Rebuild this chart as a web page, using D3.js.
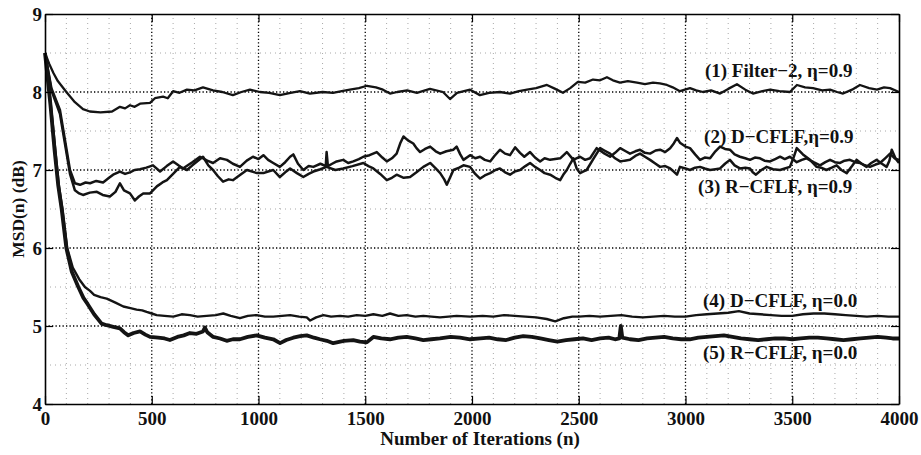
<!DOCTYPE html>
<html>
<head>
<meta charset="utf-8">
<script src="https://cdn.jsdelivr.net/npm/d3@7"></script>
<style>
  html, body { margin: 0; padding: 0; background: #fff; }
  svg { display: block; }
  text { font-family: "Liberation Serif", "DejaVu Serif", serif; font-weight: bold; fill: #111; }
</style>
</head>
<body>
<svg id="chart" width="921" height="455"></svg>
<script>
// axis ticks
const xTicks = [0, 500, 1000, 1500, 2000, 2500, 3000, 3500, 4000];
const yTicks = [4, 5, 6, 7, 8, 9];

// series: [iteration, MSD dB]
const filter2_09 = [
  [0, 8.5], [20, 8.36], [40, 8.24], [60, 8.14], [100, 8.0], [140, 7.87], [178, 7.78], [210, 7.75],
  [260, 7.74], [314, 7.75], [351, 7.81], [375, 7.79], [398, 7.83], [420, 7.81], [445, 7.85], [492, 7.86],
  [515, 7.92], [553, 7.94], [575, 7.92], [600, 8.01], [630, 7.99], [665, 8.03], [700, 8.02], [740, 8.06],
  [787, 8.02], [830, 8.0], [880, 7.96], [920, 8.0], [960, 8.03], [1007, 8.0], [1050, 7.99], [1100, 7.96],
  [1150, 7.99], [1194, 8.01], [1241, 7.98], [1300, 8.0], [1349, 7.99], [1390, 8.01], [1428, 8.03],
  [1470, 8.05], [1508, 8.08], [1550, 8.06], [1583, 8.03], [1616, 7.98], [1650, 8.0], [1696, 8.02],
  [1742, 7.99], [1803, 8.04], [1864, 8.0], [1897, 7.91], [1930, 7.99], [1991, 8.03], [2037, 7.96],
  [2080, 7.99], [2131, 8.0], [2178, 7.98], [2220, 8.01], [2258, 8.03], [2300, 8.05], [2351, 8.09],
  [2390, 8.04], [2426, 7.99], [2460, 8.05], [2496, 8.13], [2530, 8.12], [2567, 8.16], [2600, 8.15],
  [2632, 8.19], [2660, 8.15], [2693, 8.12], [2730, 8.14], [2773, 8.12], [2810, 8.1], [2848, 8.12],
  [2880, 8.11], [2913, 8.09], [2940, 8.06], [2974, 8.01], [3021, 8.05], [3050, 8.02], [3082, 8.0],
  [3120, 8.02], [3162, 7.98], [3200, 8.04], [3241, 8.1], [3280, 8.03], [3316, 7.98], [3360, 8.01],
  [3396, 8.03], [3440, 8.01], [3489, 8.0], [3522, 8.09], [3560, 8.06], [3597, 8.05], [3640, 8.02],
  [3677, 8.03], [3710, 8.0], [3738, 7.98], [3780, 8.03], [3817, 8.09], [3860, 8.05], [3897, 8.03],
  [3930, 8.06], [3958, 8.05], [4000, 8.0]
];

const dcflf_09 = [
  [0, 8.5], [30, 8.05], [70, 7.77], [117, 7.0], [140, 6.83], [164, 6.81], [190, 6.84], [211, 6.83],
  [240, 6.86], [272, 6.84], [300, 6.9], [319, 6.94], [351, 6.98], [375, 6.95], [398, 6.97], [420, 7.0],
  [445, 7.01], [475, 7.03], [506, 7.06], [539, 6.98], [570, 7.05], [600, 7.11], [625, 7.06], [646, 7.02],
  [690, 7.1], [726, 7.17], [760, 7.12], [787, 7.09], [820, 7.15], [852, 7.13], [880, 7.08], [913, 7.04],
  [945, 7.12], [974, 7.17], [1000, 7.14], [1023, 7.19], [1045, 7.13], [1069, 7.09], [1100, 7.04],
  [1125, 7.1], [1148, 7.17], [1163, 7.2], [1185, 7.08], [1210, 7.0], [1235, 7.05], [1257, 7.04],
  [1290, 7.08], [1315, 7.05], [1319, 7.23], [1325, 7.05], [1345, 7.08], [1366, 7.11], [1397, 7.13],
  [1420, 7.09], [1444, 7.11], [1470, 7.14], [1491, 7.17], [1520, 7.19], [1554, 7.23], [1580, 7.16],
  [1601, 7.11], [1625, 7.15], [1647, 7.21], [1665, 7.35], [1679, 7.43], [1700, 7.38], [1725, 7.34],
  [1740, 7.28], [1757, 7.23], [1780, 7.27], [1804, 7.3], [1830, 7.24], [1851, 7.21], [1880, 7.24],
  [1913, 7.26], [1928, 7.3], [1945, 7.2], [1960, 7.13], [1991, 7.19], [2015, 7.15], [2038, 7.17],
  [2060, 7.13], [2085, 7.11], [2105, 7.18], [2131, 7.26], [2155, 7.21], [2178, 7.19], [2202, 7.29],
  [2225, 7.22], [2245, 7.17], [2272, 7.23], [2295, 7.16], [2319, 7.11], [2340, 7.15], [2366, 7.13],
  [2413, 7.15], [2444, 7.23], [2475, 7.13], [2506, 7.17], [2530, 7.13], [2553, 7.15], [2584, 7.28],
  [2615, 7.22], [2647, 7.17], [2670, 7.22], [2694, 7.28], [2720, 7.24], [2740, 7.21], [2765, 7.24],
  [2787, 7.26], [2810, 7.22], [2834, 7.21], [2860, 7.25], [2881, 7.26], [2905, 7.23], [2928, 7.28],
  [2945, 7.34], [2960, 7.41], [2974, 7.35], [3000, 7.3], [3021, 7.28], [3045, 7.2], [3068, 7.13],
  [3090, 7.16], [3115, 7.15], [3140, 7.24], [3162, 7.3], [3185, 7.27], [3208, 7.26], [3230, 7.2],
  [3255, 7.17], [3280, 7.15], [3302, 7.13], [3325, 7.16], [3349, 7.15], [3370, 7.12], [3396, 7.11],
  [3420, 7.14], [3443, 7.17], [3465, 7.14], [3489, 7.17], [3521, 7.1], [3545, 7.13], [3567, 7.15],
  [3600, 7.1], [3630, 7.06], [3655, 7.1], [3677, 7.13], [3700, 7.1], [3724, 7.09], [3745, 7.12],
  [3770, 7.13], [3795, 7.1], [3817, 7.09], [3840, 7.06], [3864, 7.04], [3890, 7.07], [3911, 7.09],
  [3935, 7.15], [3958, 7.21], [3980, 7.15], [4000, 7.13]
];

const rcflf_09 = [
  [0, 8.5], [30, 8.02], [70, 7.72], [117, 6.95], [140, 6.74], [160, 6.7], [178, 6.68], [210, 6.71],
  [243, 6.72], [270, 6.68], [304, 6.66], [330, 6.72], [351, 6.83], [370, 6.74], [398, 6.7], [421, 6.61],
  [440, 6.66], [460, 6.7], [492, 6.7], [524, 6.79], [550, 6.84], [571, 6.87], [600, 6.95], [632, 7.04],
  [665, 7.0], [690, 7.06], [712, 7.11], [740, 7.17], [765, 7.06], [787, 7.0], [810, 6.92], [834, 6.85],
  [860, 6.88], [880, 6.87], [910, 6.93], [946, 7.0], [993, 6.96], [1023, 6.96], [1045, 6.98],
  [1069, 7.0], [1100, 6.91], [1125, 6.97], [1148, 7.02], [1180, 6.96], [1210, 6.91], [1235, 6.95],
  [1257, 6.98], [1290, 7.01], [1319, 7.04], [1360, 7.0], [1397, 7.02], [1440, 7.05], [1491, 7.09],
  [1515, 7.05], [1538, 7.02], [1570, 6.95], [1601, 6.87], [1625, 6.9], [1647, 6.94], [1680, 6.9],
  [1710, 6.91], [1740, 6.97], [1772, 7.04], [1804, 7.09], [1830, 7.02], [1851, 6.96], [1870, 6.88],
  [1882, 6.81], [1900, 6.92], [1913, 7.0], [1940, 7.03], [1960, 7.06], [1991, 7.04], [2015, 6.95],
  [2038, 6.89], [2060, 6.93], [2085, 6.96], [2110, 7.0], [2131, 7.02], [2155, 6.97], [2178, 6.94],
  [2200, 6.98], [2225, 7.0], [2250, 7.05], [2272, 7.09], [2295, 7.04], [2319, 7.0], [2340, 6.96],
  [2366, 6.94], [2390, 6.9], [2413, 6.87], [2430, 6.95], [2444, 7.0], [2460, 7.08], [2475, 7.15],
  [2490, 7.02], [2506, 6.96], [2520, 6.98], [2537, 7.0], [2570, 7.15], [2600, 7.28], [2620, 7.25],
  [2647, 7.21], [2670, 7.15], [2694, 7.11], [2715, 7.12], [2740, 7.13], [2765, 7.18], [2787, 7.21],
  [2810, 7.17], [2834, 7.13], [2860, 7.08], [2881, 7.04], [2905, 7.05], [2928, 7.02], [2945, 6.98],
  [2960, 6.94], [2974, 7.04], [3000, 7.02], [3021, 7.0], [3045, 7.03], [3068, 7.04], [3090, 7.02],
  [3115, 7.0], [3140, 7.01], [3162, 7.02], [3185, 7.08], [3208, 7.13], [3230, 7.06], [3255, 7.02],
  [3280, 7.03], [3302, 7.02], [3315, 6.97], [3330, 6.94], [3355, 7.0], [3380, 7.04], [3410, 7.01],
  [3443, 7.0], [3465, 7.02], [3489, 7.04], [3505, 7.15], [3521, 7.28], [3550, 7.2], [3583, 7.13],
  [3600, 7.08], [3614, 7.04], [3635, 7.03], [3660, 7.0], [3685, 7.03], [3708, 7.06], [3730, 7.0],
  [3755, 6.96], [3780, 7.05], [3801, 7.13], [3825, 7.08], [3848, 7.04], [3870, 7.09], [3895, 7.13],
  [3920, 7.08], [3942, 7.04], [3955, 7.12], [3966, 7.26], [3985, 7.14], [4000, 7.09]
];

const dcflf_00 = [
  [0, 8.5], [25, 7.9], [47, 7.3], [65, 6.8], [82, 6.5], [104, 6.0], [130, 5.75], [160, 5.6],
  [187, 5.5], [211, 5.45], [230, 5.4], [260, 5.37], [289, 5.35], [330, 5.3], [367, 5.25], [400, 5.23],
  [429, 5.21], [455, 5.2], [476, 5.18], [500, 5.16], [523, 5.14], [560, 5.13], [601, 5.12], [640, 5.15],
  [679, 5.14], [715, 5.12], [757, 5.13], [800, 5.14], [835, 5.16], [870, 5.13], [913, 5.1], [950, 5.13],
  [991, 5.14], [1030, 5.12], [1069, 5.12], [1110, 5.13], [1148, 5.14], [1190, 5.12], [1226, 5.11],
  [1242, 5.07], [1270, 5.11], [1304, 5.14], [1340, 5.12], [1382, 5.13], [1420, 5.12], [1460, 5.14],
  [1500, 5.13], [1538, 5.15], [1580, 5.13], [1616, 5.16], [1655, 5.13], [1694, 5.14], [1735, 5.12],
  [1772, 5.13], [1810, 5.12], [1850, 5.11], [1890, 5.12], [1928, 5.13], [1991, 5.12], [2050, 5.13],
  [2100, 5.12], [2150, 5.14], [2200, 5.13], [2250, 5.12], [2300, 5.11], [2350, 5.09], [2390, 5.06],
  [2430, 5.1], [2470, 5.12], [2500, 5.12], [2550, 5.13], [2600, 5.12], [2650, 5.13], [2700, 5.14],
  [2750, 5.12], [2800, 5.11], [2850, 5.12], [2900, 5.13], [2950, 5.12], [3000, 5.12], [3050, 5.14],
  [3100, 5.15], [3150, 5.16], [3200, 5.17], [3250, 5.19], [3300, 5.16], [3350, 5.15], [3400, 5.14],
  [3450, 5.13], [3500, 5.13], [3550, 5.15], [3600, 5.16], [3650, 5.16], [3700, 5.15], [3750, 5.14],
  [3800, 5.13], [3850, 5.12], [3900, 5.13], [3950, 5.12], [4000, 5.12]
];

const rcflf_00 = [
  [0, 8.5], [25, 7.85], [45, 7.25], [62, 6.8], [78, 6.5], [100, 6.0], [125, 5.7], [156, 5.5],
  [180, 5.36], [200, 5.28], [230, 5.15], [265, 5.03], [289, 5.01], [320, 4.99], [351, 4.97], [370, 4.92],
  [390, 4.88], [415, 4.91], [445, 4.93], [470, 4.89], [492, 4.86], [530, 4.85], [560, 4.84], [585, 4.82],
  [620, 4.86], [650, 4.88], [679, 4.91], [710, 4.9], [740, 4.93], [749, 4.98], [760, 4.92], [788, 4.86],
  [820, 4.84], [851, 4.81], [880, 4.83], [913, 4.83], [950, 4.86], [991, 4.88], [1030, 4.85],
  [1069, 4.83], [1101, 4.78], [1130, 4.82], [1163, 4.85], [1195, 4.87], [1226, 4.88], [1260, 4.85],
  [1288, 4.83], [1320, 4.81], [1350, 4.78], [1400, 4.81], [1444, 4.82], [1475, 4.8], [1507, 4.79],
  [1538, 4.86], [1575, 4.84], [1616, 4.83], [1655, 4.85], [1694, 4.86], [1735, 4.84], [1772, 4.82],
  [1810, 4.83], [1850, 4.84], [1900, 4.86], [1944, 4.85], [1991, 4.83], [2040, 4.84], [2080, 4.85],
  [2120, 4.83], [2160, 4.82], [2200, 4.85], [2240, 4.87], [2280, 4.86], [2320, 4.84], [2360, 4.82],
  [2400, 4.8], [2440, 4.82], [2480, 4.83], [2520, 4.84], [2560, 4.82], [2600, 4.84], [2640, 4.85],
  [2670, 4.83], [2690, 4.84], [2697, 5.0], [2704, 4.85], [2740, 4.83], [2780, 4.82], [2820, 4.84],
  [2860, 4.85], [2900, 4.86], [2940, 4.84], [2980, 4.83], [3020, 4.83], [3060, 4.85], [3100, 4.86],
  [3140, 4.87], [3180, 4.88], [3220, 4.86], [3260, 4.84], [3300, 4.83], [3340, 4.82], [3380, 4.83],
  [3420, 4.84], [3460, 4.84], [3500, 4.83], [3540, 4.84], [3580, 4.85], [3620, 4.85], [3660, 4.84],
  [3700, 4.83], [3740, 4.82], [3780, 4.83], [3820, 4.84], [3860, 4.85], [3900, 4.86], [3940, 4.85],
  [3970, 4.84], [4000, 4.84]
];

// label anchors in data units (left edge, baseline)
const labels = [
  { text: '(1) Filter\u22122, \u03b7=0.9', n: 3091, v: 8.19 },
  { text: '(2) D\u2212CFLF,\u03b7=0.9', n: 3087, v: 7.35 },
  { text: '(3) R\u2212CFLF, \u03b7=0.9', n: 3059, v: 6.71 },
  { text: '(4) D\u2212CFLF, \u03b7=0.0', n: 3082, v: 5.24 },
  { text: '(5) R\u2212CFLF, \u03b7=0.0', n: 3082, v: 4.58 }
];

const svg = d3.select('#chart');
const width = +svg.attr('width');
const height = +svg.attr('height');
const margin = { top: 14, right: 22, bottom: 51, left: 45 };

const x = d3.scaleLinear().domain([0, 4000]).range([margin.left, width - margin.right]);
const y = d3.scaleLinear().domain([4, 9]).range([height - margin.bottom, margin.top]);

svg.append('rect').attr('width', width).attr('height', height).attr('fill', '#fff');

// minor grid (every 100 iterations / 0.5 dB)
const xMinor = d3.range(100, 4000, 100).filter(d => d % 500 !== 0);
const yMinor = [4.5, 5.5, 6.5, 7.5, 8.5];

svg.append('g')
  .selectAll('line')
  .data(xMinor)
  .join('line')
  .attr('x1', d => x(d)).attr('x2', d => x(d))
  .attr('y1', y(4)).attr('y2', y(9))
  .attr('stroke', '#a8a8a8').attr('stroke-width', 1)
  .attr('stroke-dasharray', '1,4');

svg.append('g')
  .selectAll('line')
  .data(yMinor)
  .join('line')
  .attr('x1', x(0)).attr('x2', x(4000))
  .attr('y1', d => y(d)).attr('y2', d => y(d))
  .attr('stroke', '#a8a8a8').attr('stroke-width', 1)
  .attr('stroke-dasharray', '1,4');

// major grid
svg.append('g')
  .selectAll('line')
  .data(xTicks.slice(1, -1))
  .join('line')
  .attr('x1', d => x(d)).attr('x2', d => x(d))
  .attr('y1', y(4)).attr('y2', y(9))
  .attr('stroke', '#000').attr('stroke-width', 1.3)
  .attr('stroke-dasharray', '1.3,2.2');

svg.append('g')
  .selectAll('line')
  .data(yTicks.slice(1, -1))
  .join('line')
  .attr('x1', x(0)).attr('x2', x(4000))
  .attr('y1', d => y(d)).attr('y2', d => y(d))
  .attr('stroke', '#000').attr('stroke-width', 1.3)
  .attr('stroke-dasharray', '1.3,2.2');

// lines
const line = d3.line().x(d => x(d[0])).y(d => y(d[1]));
const series = [
  { data: filter2_09, w: 2.3 },
  { data: rcflf_09, w: 2.5 },
  { data: dcflf_09, w: 2.5 },
  { data: dcflf_00, w: 2.4 },
  { data: rcflf_00, w: 3.8 }
];
svg.append('g')
  .selectAll('path')
  .data(series)
  .join('path')
  .attr('d', d => line(d.data))
  .attr('fill', 'none')
  .attr('stroke', '#141414')
  .attr('stroke-width', d => d.w)
  .attr('stroke-linejoin', 'round');

// axes (MATLAB style box with inward ticks)
const tickLen = 8;
const fmt = d3.format('d');
const xAxis = svg.append('g')
  .attr('transform', `translate(0,${y(4)})`)
  .call(d3.axisBottom(x).tickValues(xTicks).tickFormat(fmt).tickSizeInner(-tickLen).tickSizeOuter(0).tickPadding(8));
const yAxis = svg.append('g')
  .attr('transform', `translate(${x(0)},0)`)
  .call(d3.axisLeft(y).tickValues(yTicks).tickFormat(fmt).tickSizeInner(-tickLen).tickSizeOuter(0).tickPadding(3));
svg.append('g')
  .attr('transform', `translate(0,${y(9)})`)
  .call(d3.axisTop(x).tickValues(xTicks).tickSizeInner(-tickLen).tickSizeOuter(0).tickFormat(''));
svg.append('g')
  .attr('transform', `translate(${x(4000)},0)`)
  .call(d3.axisRight(y).tickValues(yTicks).tickSizeInner(-tickLen).tickSizeOuter(0).tickFormat(''));

svg.selectAll('.domain').attr('stroke', '#000').attr('stroke-width', 1.6);
svg.selectAll('.tick line').attr('stroke', '#000').attr('stroke-width', 1.2);
svg.selectAll('.tick text').attr('font-size', 19).attr('fill', '#111')
  .attr('font-family', '"Liberation Serif", serif').attr('font-weight', 'bold');

// series labels
svg.append('g')
  .selectAll('text')
  .data(labels)
  .join('text')
  .attr('x', d => x(d.n))
  .attr('y', d => y(d.v))
  .attr('font-size', 19)
  .text(d => d.text);

// axis titles
svg.append('text')
  .attr('x', 480)
  .attr('y', height - 10)
  .attr('text-anchor', 'middle')
  .attr('font-size', 19)
  .text('Number of Iterations (n)');

svg.append('text')
  .attr('transform', `translate(24,${(y(4) + y(9)) / 2}) rotate(-90)`)
  .attr('text-anchor', 'middle')
  .attr('font-size', 17.5)
  .text('MSD(n) (dB)');
</script>
</body>
</html>
